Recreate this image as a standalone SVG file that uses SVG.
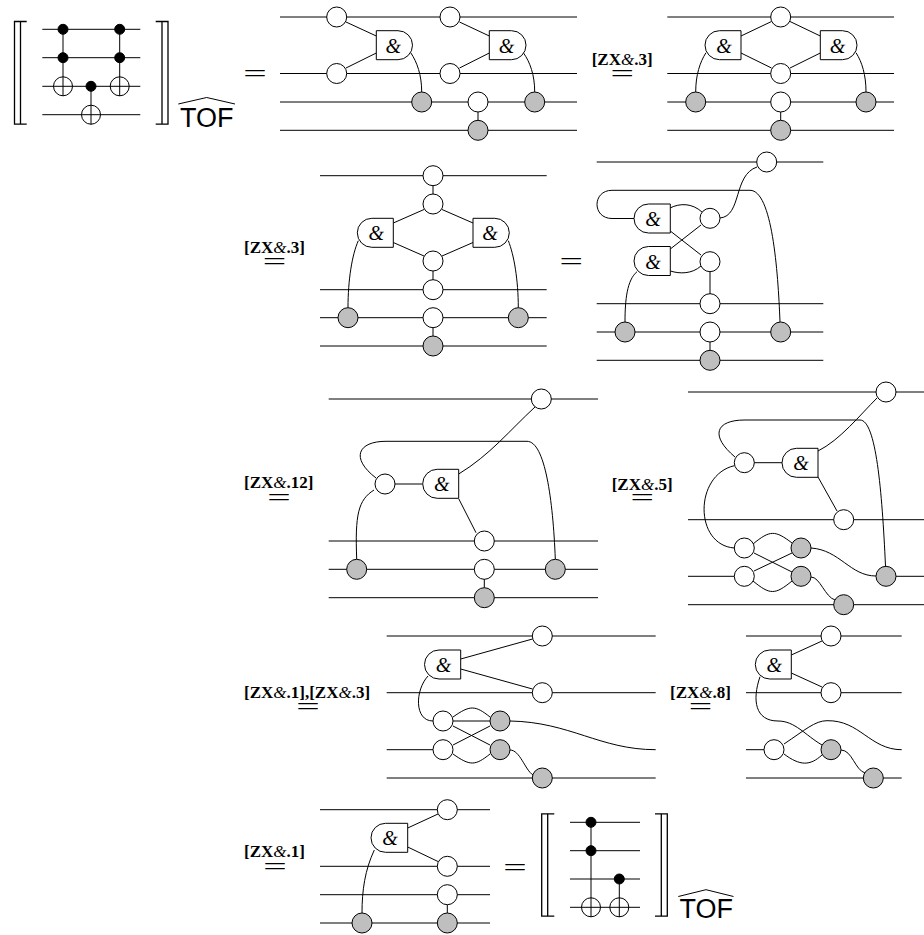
<svg xmlns="http://www.w3.org/2000/svg" width="924" height="935" viewBox="0 0 924 935">
<style>
.c{fill:none;stroke:#000;stroke-width:1}
.b{fill:none;stroke:#000;stroke-width:1.3}
.z{fill:#fff;stroke:#000;stroke-width:1}
.x{fill:#bfbfbf;stroke:#000;stroke-width:1}
.k{fill:#000;stroke:#000;stroke-width:1}
.g{fill:#fff;stroke:#000;stroke-width:1}
.a{font-family:"Liberation Serif",serif;font-style:italic;font-size:20px;text-anchor:middle;fill:#000}
.l{font-family:"Liberation Serif",serif;font-weight:bold;font-size:17px;fill:#000}
.l tspan{font-weight:normal;font-style:italic}
.e{font-family:"DejaVu Sans",sans-serif;font-weight:200;font-size:31px;text-anchor:middle;fill:#000}
.t{font-family:"Liberation Sans",sans-serif;font-size:27px;fill:#000}
</style>
<rect width="924" height="935" fill="#fff"/>
<g id="connectors" class="c">
<!-- circuit 1 -->
<path d="M42.3,29.3H140.3M42.3,57.7H140.3M42.3,86.3H140.3M42.3,114.7H140.3M63,29.3V96M119.7,29.3V96M91,86.3V124.5"/>
<!-- panel 1 -->
<path d="M280,17H577M280,73.5H577M280,102H577M280,130.3H577"/>
<path d="M346,22L376.3,36M346,68L376.3,53M459.5,22L489.3,36M459.5,68L489.3,53M410.7,52.7C417,62 421.7,75 421.7,92M523.3,52.7C530,62 534.7,75 534.7,92M478,112V120"/>
<!-- panel 2 -->
<path d="M667.3,17H894M667.3,73.5H894M667.3,102H894M667.3,130.3H894"/>
<path d="M741,36L771.5,21.5M741,53L771.5,68M820.3,36L790,21.5M820.3,53L790,68M706,52.7C700,62 695.7,75 695.7,92M856,52.7C862,62 866,75 866,92M780.7,112V120"/>
<!-- panel 3 -->
<path d="M320,175.7H546.7M320,289.7H546.7M320,317.7H546.7M320,346H546.7"/>
<path d="M433,185V195M433,271V280M433,327V336M393.3,223L424,209.5M393.3,242.5L424,256M473,223L442,209.5M473,242.5L442,256M358.3,240.7C352,255 348,280 348,307.7M508.3,240.7C514,255 518.3,280 518.3,307.7"/>
<!-- panel 4 -->
<path d="M596.7,162H823.3M596.7,303.7H823.3M596.7,332H823.3M596.7,360.3H823.3"/>
<path d="M634,218.5H612C592,218.5 592,190.3 612,190.3H750C772,190.3 778,270 780,322M670,208C680,203 692,203 702,212M670.3,231L701,255M670.3,249L701,225M670.3,271C680,274 692,274 701,266M720,218C742,216 733,175 757,167M637,271.7C627,280 625,300 625,322M710,272V294M710,342V350"/>
<!-- panel 5 -->
<path d="M328.7,399H598M328.7,541H598M328.7,569.3H598M328.7,597.7H598"/>
<path d="M376,478C350,458 358,441.3 386,441.3H527C545,441.3 553,500 555.3,559M374,490C358,500 355,515 356.7,559M458.7,474C490,455 510,430 535,407M458.7,498.7L476,532.7M395,484H422.7M484.3,579V587.7"/>
<!-- panel 6 -->
<path d="M688,392H924M688,519.7H924M688,576.3H734M896,576.3H924M688,604.7H924"/>
<path d="M735,457C710,436 715,420 745,420H860C876,420 882,490 885.5,566M734.3,465.7C694,475 694,545 734.3,548M818,451C840,440 860,415 877,398M818,477L837,511M754,462.7H782M753,544C770,530 775,530 792,543M753,581C770,595 775,595 792,581M754,553L792,572M754,571L792,553M811,548C840,550 850,576 876,576M811,577C820,577 825,597 835,600"/>
<!-- panel 7 -->
<path d="M386.7,636H655.7M386.7,692.7H655.7M386.7,749.7H433M386.7,778H655.7"/>
<path d="M460.7,659L532.5,639M460.7,669L532.5,689M428,676C415,690 414,721 433,721M453,721H490M453,717C470,705 475,705 490,717M453,754C470,766 475,766 490,754M453,726L490,745M453,745L490,726M510,721C570,722 600,749.7 655.7,749.7M510,750C520,750 525,770 533,775"/>
<!-- panel 8 -->
<path d="M746,636H901.7M746,692.7H901.7M746,749.7H764M746,778H901.7"/>
<path d="M791.3,655L822,641M791.3,673L822,687M760,676.7C752,700 755,721 778,721C795,721 805,735 822,745M784,744C805,730 815,720.7 827,720.7C860,720 870,749.7 901.7,749.7M784,754C800,766 810,766 822,755M841,750C852,750 855,770 865,773"/>
<!-- panel 9 -->
<path d="M320,809.7H490M320,866.3H490M320,894.7H490M320,923H490"/>
<path d="M407.7,828L438,814M407.7,847L438,861.5M374.3,850C365,870 362,890 362,913M447.3,904.7V913"/>
<!-- circuit 2 -->
<path d="M570,822.3H640M570,850.7H640M570,879H640M570,907.3H640M591,822.3V917M619.3,879V917"/>
</g>
<g id="bracket-left-1" class="b"><path d="M26.7,21.5H14.5V124.2H26.7M20.5,21.5V124.2"/></g>
<g id="bracket-right-1" class="b"><path d="M155.7,21.5H168V124.2H155.7M162,21.5V124.2"/></g>
<g id="bracket-left-2" class="b"><path d="M554.3,813.8H541.7V916.2H554.3M547.7,813.8V916.2"/></g>
<g id="bracket-right-2" class="b"><path d="M655,813.8H667.3V916.2H655M661.3,813.8V916.2"/></g>
<g id="tof-1"><path class="c" d="M178.3,104L206.7,97.5L235,104"/><text class="t" x="180" y="126.7">TOF</text></g>
<g id="tof-2"><path class="c" d="M678.3,896.5L706,889.7L733.5,896.5"/><text class="t" x="679.5" y="918.3">TOF</text></g>
<!-- circuit 1 nodes -->
<g id="c1-k1"><circle class="k" cx="63" cy="29.3" r="5"/></g>
<g id="c1-k2"><circle class="k" cx="63" cy="57.7" r="5"/></g>
<g id="c1-p1"><circle class="c" cx="63" cy="86.3" r="9.5"/></g>
<g id="c1-k3"><circle class="k" cx="119.7" cy="29.3" r="5"/></g>
<g id="c1-k4"><circle class="k" cx="119.7" cy="57.7" r="5"/></g>
<g id="c1-p2"><circle class="c" cx="119.7" cy="86.3" r="9.5"/></g>
<g id="c1-k5"><circle class="k" cx="91" cy="86.3" r="5"/></g>
<g id="c1-p3"><circle class="c" cx="91" cy="114.7" r="9.5"/></g>
<!-- panel 1 nodes -->
<g id="p1-a"><circle class="z" cx="336.7" cy="17" r="10"/></g>
<g id="p1-b"><circle class="z" cx="336.7" cy="73.5" r="10"/></g>
<g id="p1-c"><circle class="z" cx="450" cy="17" r="10"/></g>
<g id="p1-d"><circle class="z" cx="450" cy="73.5" r="10"/></g>
<g id="p1-e"><circle class="z" cx="478" cy="102" r="10"/></g>
<g id="p1-f"><circle class="x" cx="421.7" cy="102" r="10"/></g>
<g id="p1-g"><circle class="x" cx="534.7" cy="102" r="10"/></g>
<g id="p1-h"><circle class="x" cx="478" cy="130.3" r="10"/></g>
<g id="p1-and1"><path class="g" d="M376.3,30.7H398A14.5,14.5 0 0 1 398,59.7H376.3Z"/><text class="a" x="393.3" y="52.7">&amp;</text></g>
<g id="p1-and2"><path class="g" d="M489.3,30.7H511.5A14.5,14.5 0 0 1 511.5,59.7H489.3Z"/><text class="a" x="506.5" y="52.7">&amp;</text></g>
<!-- panel 2 nodes -->
<g id="p2-a"><circle class="z" cx="780.7" cy="17" r="10"/></g>
<g id="p2-b"><circle class="z" cx="780.7" cy="73.5" r="10"/></g>
<g id="p2-c"><circle class="z" cx="780.7" cy="102" r="10"/></g>
<g id="p2-d"><circle class="x" cx="780.7" cy="130.3" r="10"/></g>
<g id="p2-e"><circle class="x" cx="695.7" cy="102" r="10"/></g>
<g id="p2-f"><circle class="x" cx="866" cy="102" r="10"/></g>
<g id="p2-and1"><path class="g" d="M741,30.7H719.5A14.5,14.5 0 0 0 719.5,59.7H741Z"/><text class="a" x="724" y="52.7">&amp;</text></g>
<g id="p2-and2"><path class="g" d="M820.3,30.7H842.5A14.5,14.5 0 0 1 842.5,59.7H820.3Z"/><text class="a" x="837.5" y="52.7">&amp;</text></g>
<!-- panel 3 nodes -->
<g id="p3-a"><circle class="z" cx="433" cy="175.7" r="10"/></g>
<g id="p3-b"><circle class="z" cx="433" cy="204" r="10"/></g>
<g id="p3-c"><circle class="z" cx="433" cy="261" r="10"/></g>
<g id="p3-d"><circle class="z" cx="433" cy="289.7" r="10"/></g>
<g id="p3-e"><circle class="z" cx="433" cy="317.7" r="10"/></g>
<g id="p3-f"><circle class="x" cx="433" cy="346" r="10"/></g>
<g id="p3-g"><circle class="x" cx="348" cy="317.7" r="10"/></g>
<g id="p3-h"><circle class="x" cx="518.3" cy="317.7" r="10"/></g>
<g id="p3-and1"><path class="g" d="M393.3,218.3H371.8A14.5,14.5 0 0 0 371.8,247.3H393.3Z"/><text class="a" x="376.3" y="240.3">&amp;</text></g>
<g id="p3-and2"><path class="g" d="M473,218.3H494.8A14.5,14.5 0 0 1 494.8,247.3H473Z"/><text class="a" x="490" y="240.3">&amp;</text></g>
<!-- panel 4 nodes -->
<g id="p4-a"><circle class="z" cx="766.7" cy="162" r="10"/></g>
<g id="p4-b"><circle class="z" cx="710" cy="218.3" r="10"/></g>
<g id="p4-c"><circle class="z" cx="710" cy="261.7" r="10"/></g>
<g id="p4-d"><circle class="z" cx="710" cy="303.7" r="10"/></g>
<g id="p4-e"><circle class="z" cx="710" cy="332" r="10"/></g>
<g id="p4-f"><circle class="x" cx="710" cy="360.3" r="10"/></g>
<g id="p4-g"><circle class="x" cx="625" cy="332" r="10"/></g>
<g id="p4-h"><circle class="x" cx="780.7" cy="332" r="10"/></g>
<g id="p4-and1"><path class="g" d="M670.3,204H648.5A14.5,14.5 0 0 0 648.5,233H670.3Z"/><text class="a" x="653" y="226">&amp;</text></g>
<g id="p4-and2"><path class="g" d="M670.3,246.5H648.5A14.5,14.5 0 0 0 648.5,275.5H670.3Z"/><text class="a" x="653" y="268.5">&amp;</text></g>
<!-- panel 5 nodes -->
<g id="p5-a"><circle class="z" cx="541.3" cy="399" r="10"/></g>
<g id="p5-b"><circle class="z" cx="385" cy="484" r="10"/></g>
<g id="p5-c"><circle class="z" cx="484.3" cy="541" r="10"/></g>
<g id="p5-d"><circle class="z" cx="484.3" cy="569.3" r="10"/></g>
<g id="p5-e"><circle class="x" cx="484.3" cy="597.7" r="10"/></g>
<g id="p5-f"><circle class="x" cx="356.7" cy="569.3" r="10"/></g>
<g id="p5-g"><circle class="x" cx="555.3" cy="569.3" r="10"/></g>
<g id="p5-and"><path class="g" d="M458.7,469.3H437.2A14.5,14.5 0 0 0 437.2,498.3H458.7Z"/><text class="a" x="441.7" y="491.3">&amp;</text></g>
<!-- panel 6 nodes -->
<g id="p6-a"><circle class="z" cx="886" cy="392" r="10"/></g>
<g id="p6-b"><circle class="z" cx="744.3" cy="462.7" r="10"/></g>
<g id="p6-c"><circle class="z" cx="843.7" cy="519.7" r="10"/></g>
<g id="p6-d"><circle class="z" cx="744.3" cy="548" r="10"/></g>
<g id="p6-e"><circle class="z" cx="744.3" cy="576.3" r="10"/></g>
<g id="p6-f"><circle class="x" cx="801" cy="548" r="10"/></g>
<g id="p6-g"><circle class="x" cx="801" cy="576.3" r="10"/></g>
<g id="p6-h"><circle class="x" cx="843.7" cy="604.7" r="10"/></g>
<g id="p6-i"><circle class="x" cx="886" cy="576.3" r="10"/></g>
<g id="p6-and"><path class="g" d="M818,448.3H796.5A14.5,14.5 0 0 0 796.5,477.3H818Z"/><text class="a" x="801" y="470.3">&amp;</text></g>
<!-- panel 7 nodes -->
<g id="p7-a"><circle class="z" cx="542.3" cy="636" r="10"/></g>
<g id="p7-b"><circle class="z" cx="542.3" cy="692.7" r="10"/></g>
<g id="p7-c"><circle class="z" cx="443" cy="721" r="10"/></g>
<g id="p7-d"><circle class="z" cx="443" cy="749.7" r="10"/></g>
<g id="p7-e"><circle class="x" cx="500" cy="721" r="10"/></g>
<g id="p7-f"><circle class="x" cx="500" cy="749.7" r="10"/></g>
<g id="p7-g"><circle class="x" cx="542.3" cy="778" r="10"/></g>
<g id="p7-and"><path class="g" d="M460.7,650H439A14.5,14.5 0 0 0 439,679H460.7Z"/><text class="a" x="443.5" y="672">&amp;</text></g>
<!-- panel 8 nodes -->
<g id="p8-a"><circle class="z" cx="831" cy="636" r="10"/></g>
<g id="p8-b"><circle class="z" cx="831" cy="692.7" r="10"/></g>
<g id="p8-c"><circle class="z" cx="774" cy="749.7" r="10"/></g>
<g id="p8-d"><circle class="x" cx="831" cy="749.7" r="10"/></g>
<g id="p8-e"><circle class="x" cx="873.3" cy="778" r="10"/></g>
<g id="p8-and"><path class="g" d="M791.3,650H769.8A14.5,14.5 0 0 0 769.8,679H791.3Z"/><text class="a" x="774.3" y="672">&amp;</text></g>
<!-- panel 9 nodes -->
<g id="p9-a"><circle class="z" cx="447.3" cy="809.7" r="10"/></g>
<g id="p9-b"><circle class="z" cx="447.3" cy="866.3" r="10"/></g>
<g id="p9-c"><circle class="z" cx="447.3" cy="894.7" r="10"/></g>
<g id="p9-d"><circle class="x" cx="447.3" cy="923" r="10"/></g>
<g id="p9-e"><circle class="x" cx="362" cy="923" r="10"/></g>
<g id="p9-and"><path class="g" d="M407.7,823.3H385.5A14.5,14.5 0 0 0 385.5,852.3H407.7Z"/><text class="a" x="390" y="845.3">&amp;</text></g>
<!-- circuit 2 nodes -->
<g id="c2-k1"><circle class="k" cx="591" cy="822.3" r="5"/></g>
<g id="c2-k2"><circle class="k" cx="591" cy="850.7" r="5"/></g>
<g id="c2-p1"><circle class="c" cx="591" cy="907.3" r="9.5"/></g>
<g id="c2-k3"><circle class="k" cx="619.3" cy="879" r="5"/></g>
<g id="c2-p2"><circle class="c" cx="619.3" cy="907.3" r="9.5"/></g>
<!-- labels -->
<g id="lbl-1"><text class="l" x="591.7" y="65">[ZX<tspan>&amp;</tspan>.3]</text><text class="e" x="622.3" y="83">=</text></g>
<g id="lbl-2"><text class="l" x="244" y="253">[ZX<tspan>&amp;</tspan>.3]</text><text class="e" x="274.5" y="271">=</text></g>
<g id="lbl-3"><text class="l" x="244" y="488">[ZX<tspan>&amp;</tspan>.12]</text><text class="e" x="279" y="507">=</text></g>
<g id="lbl-4"><text class="l" x="611.7" y="490">[ZX<tspan>&amp;</tspan>.5]</text><text class="e" x="642.3" y="507">=</text></g>
<g id="lbl-5"><text class="l" x="244" y="697.7">[ZX<tspan>&amp;</tspan>.1],[ZX<tspan>&amp;</tspan>.3]</text><text class="e" x="308" y="716">=</text></g>
<g id="lbl-6"><text class="l" x="670" y="697.7">[ZX<tspan>&amp;</tspan>.8]</text><text class="e" x="700.6" y="716">=</text></g>
<g id="lbl-7"><text class="l" x="244" y="856.7">[ZX<tspan>&amp;</tspan>.1]</text><text class="e" x="275" y="876">=</text></g>
<g id="eq-1"><text class="e" x="255" y="83">=</text></g>
<g id="eq-2"><text class="e" x="571.3" y="271">=</text></g>
<g id="eq-3"><text class="e" x="515" y="877">=</text></g>
</svg>
